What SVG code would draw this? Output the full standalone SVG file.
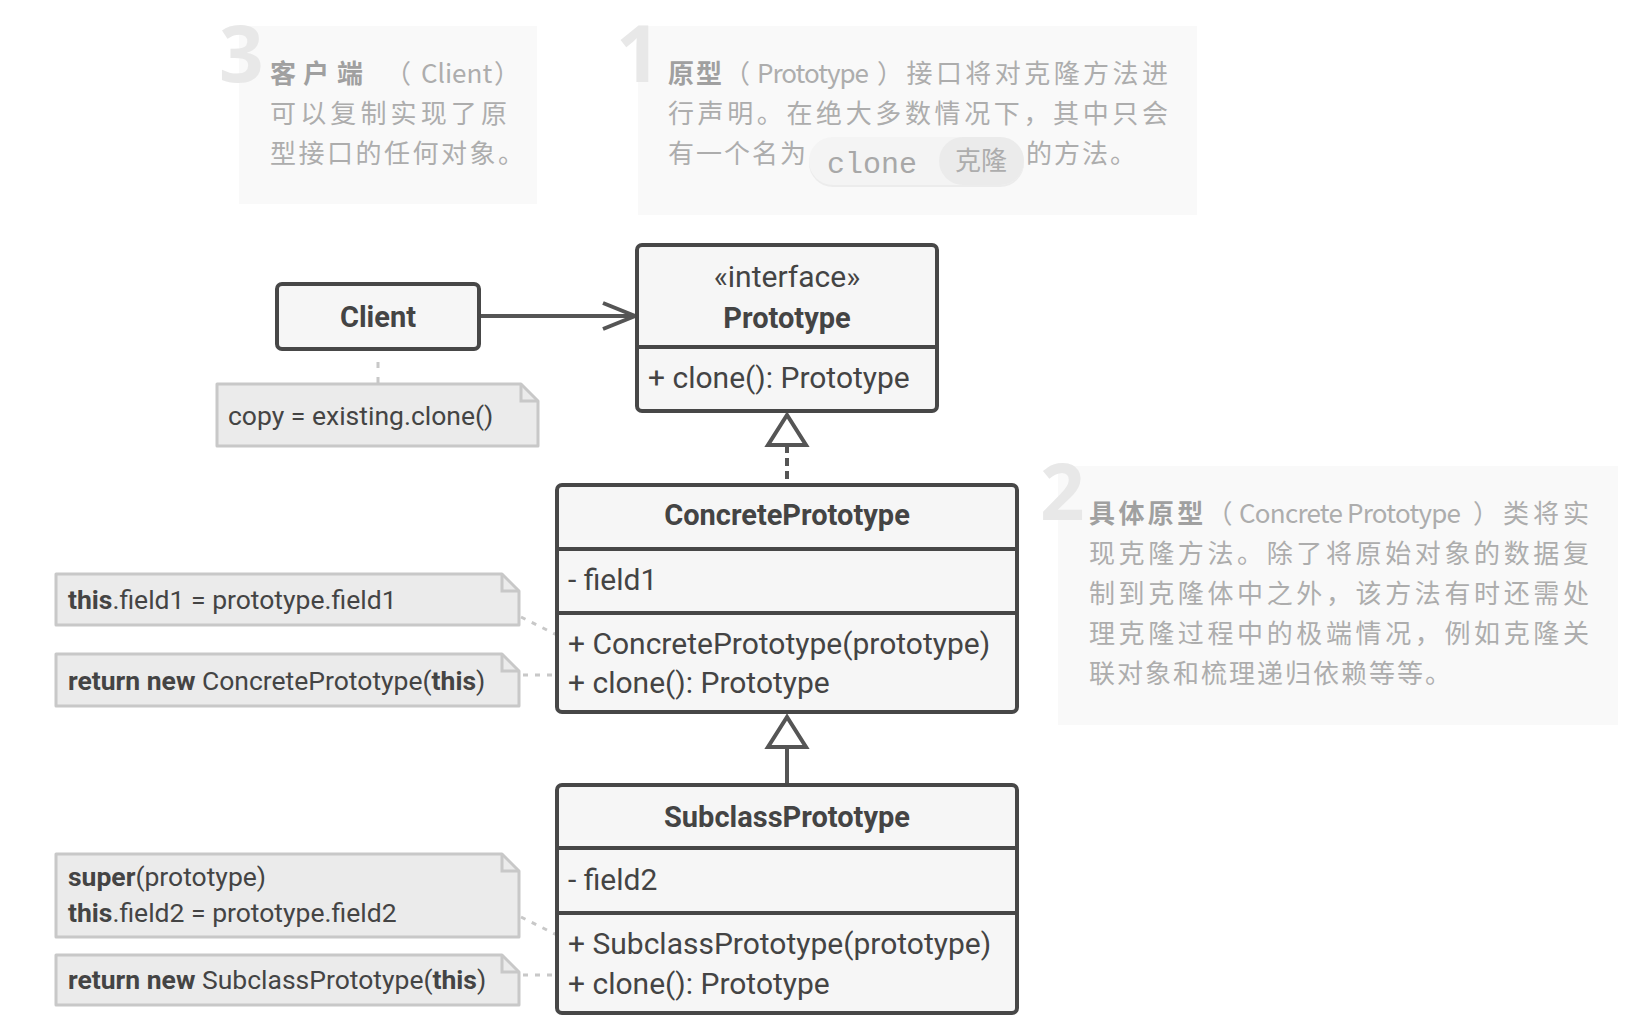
<svg xmlns="http://www.w3.org/2000/svg" width="1642" height="1030" viewBox="0 0 1642 1030">
<style>
.panel{fill:#f9f9f9}
.num{font-family:"Open Sans","Noto Sans",sans-serif;font-weight:700;font-size:78px;fill:#e8e8e8}
.desc{font-family:"Noto Sans CJK SC","Noto Sans",sans-serif;font-size:26px;fill:#adadad}
.db{font-weight:700;fill:#a0a0a0}
.box{fill:#f6f6f6;stroke:#474747;stroke-width:4}
.div{stroke:#474747;stroke-width:4;fill:none}
.t{font-family:Roboto,"Liberation Sans",sans-serif;font-size:30px;fill:#444}
.tb{font-weight:700;font-size:29px}
.mid{text-anchor:middle}
.note{fill:#ebebeb;stroke:#c8c8c8;stroke-width:3;stroke-linejoin:round}
.fold{fill:none;stroke:#c8c8c8;stroke-width:3}
.nt{font-family:Roboto,"Liberation Sans",sans-serif;font-size:26.5px;fill:#444}
.b{font-weight:700}
.edge{stroke:#555;stroke-width:4;fill:none}
.head{stroke:#555;stroke-width:4;fill:#fff;stroke-linejoin:miter}
.dash{stroke-dasharray:8 5}
.ndash{stroke:#c8c8c8;stroke-width:3;stroke-dasharray:5 7;fill:none}
</style>

<!-- description panels -->
<g id="desc-client">
  <rect class="panel" x="239" y="26" width="298" height="178"/>
  <text class="num" x="219" y="82">3</text>
  <text class="desc" y="83"><tspan class="db" x="270">客</tspan><tspan class="db" x="303">户</tspan><tspan class="db" x="337">端</tspan><tspan x="385">（</tspan><tspan x="421">Client</tspan><tspan x="494">）</tspan></text>
  <text class="desc" x="270" y="123" textLength="237" lengthAdjust="spacing">可以复制实现了原</text>
  <text class="desc" x="270" y="163" letter-spacing="2.5">型接口的任何对象。</text>
</g>

<g id="desc-prototype">
  <rect class="panel" x="638" y="26" width="559" height="189"/>
  <text class="num" x="616" y="82">1</text>
  <text class="desc" x="668" y="83" letter-spacing="2"><tspan class="db">原型</tspan>（</text>
  <text class="desc" x="757" y="83" textLength="112" lengthAdjust="spacing">Prototype</text>
  <text class="desc" x="877" y="83" textLength="291" lengthAdjust="spacing">）接口将对克隆方法进</text>
  <text class="desc" x="668" y="123" textLength="500" lengthAdjust="spacing">行声明。在绝大多数情况下，其中只会</text>
  <text class="desc" x="668" y="163" letter-spacing="2">有一个名为</text>
  <rect x="809" y="139" width="215" height="48" rx="24" fill="#ececec"/>
  <rect x="809" y="137" width="215" height="48" rx="24" fill="#f4f4f4"/>
  <rect x="939" y="137" width="85" height="48" rx="24" fill="#ebebeb"/>
  <text x="827" y="173" font-family="'Liberation Mono','DejaVu Sans Mono',monospace" font-size="30" fill="#a8a8a8">clone</text>
  <text class="desc" x="955" y="170">克隆</text>
  <text class="desc" x="1026" y="163" letter-spacing="2">的方法。</text>
</g>

<g id="desc-concrete">
  <rect class="panel" x="1058" y="466" width="560" height="259"/>
  <text class="num" x="1040" y="520">2</text>
  <text class="desc" x="1089" y="523" letter-spacing="3.4"><tspan class="db">具体原型</tspan>（</text>
  <text class="desc" x="1239" y="523" textLength="222" lengthAdjust="spacing">Concrete Prototype</text>
  <text class="desc" x="1473" y="523" textLength="116" lengthAdjust="spacing">）类将实</text>
  <text class="desc" x="1089" y="563" textLength="500" lengthAdjust="spacing">现克隆方法。除了将原始对象的数据复</text>
  <text class="desc" x="1089" y="603" textLength="500" lengthAdjust="spacing">制到克隆体中之外，该方法有时还需处</text>
  <text class="desc" x="1089" y="643" textLength="500" lengthAdjust="spacing">理克隆过程中的极端情况，例如克隆关</text>
  <text class="desc" x="1089" y="683" letter-spacing="2">联对象和梳理递归依赖等等。</text>
</g>

<!-- connectors -->
<g id="connectors">
  <line class="edge" x1="479" y1="316" x2="633" y2="316"/>
  <polyline class="edge" points="603,303 635,316 603,329"/>
  <line class="edge dash" x1="787" y1="445" x2="787" y2="485"/>
  <polygon class="head" points="787,415 768,445 806,445"/>
  <line class="edge" x1="787" y1="747" x2="787" y2="785"/>
  <polygon class="head" points="787,717 768,747 806,747"/>
  <line class="ndash" x1="378" y1="362" x2="378" y2="384" style="stroke-dasharray:6 9"/>
  <line class="ndash" x1="521" y1="617" x2="557" y2="635"/>
  <line class="ndash" x1="523" y1="675" x2="557" y2="675"/>
  <line class="ndash" x1="521" y1="917" x2="557" y2="935"/>
  <line class="ndash" x1="523" y1="975" x2="557" y2="975"/>
</g>

<!-- nodes -->
<g id="client">
  <rect class="box" x="277" y="284" width="202" height="65" rx="5"/>
  <text class="t tb mid" x="378" y="327">Client</text>
</g>

<g id="prototype">
  <rect class="box" x="637" y="245" width="300" height="166" rx="5"/>
  <line class="div" x1="637" y1="347" x2="937" y2="347"/>
  <text class="t mid" x="787" y="287">«interface»</text>
  <text class="t tb mid" x="787" y="328">Prototype</text>
  <text class="t" x="648" y="388">+ clone(): Prototype</text>
</g>

<g id="concrete-prototype">
  <rect class="box" x="557" y="485" width="460" height="227" rx="5"/>
  <line class="div" x1="557" y1="549" x2="1017" y2="549"/>
  <line class="div" x1="557" y1="613" x2="1017" y2="613"/>
  <text class="t tb mid" x="787" y="525">ConcretePrototype</text>
  <text class="t" x="568" y="590">- field1</text>
  <text class="t" x="568" y="654">+ ConcretePrototype(prototype)</text>
  <text class="t" x="568" y="693">+ clone(): Prototype</text>
</g>

<g id="subclass-prototype">
  <rect class="box" x="557" y="785" width="460" height="228" rx="5"/>
  <line class="div" x1="557" y1="848" x2="1017" y2="848"/>
  <line class="div" x1="557" y1="913" x2="1017" y2="913"/>
  <text class="t tb mid" x="787" y="827">SubclassPrototype</text>
  <text class="t" x="568" y="890">- field2</text>
  <text class="t" x="568" y="954">+ SubclassPrototype(prototype)</text>
  <text class="t" x="568" y="994">+ clone(): Prototype</text>
</g>

<g id="note-client">
  <path class="note" d="M217 384 H521 L538 401 V446 H217 Z"/>
  <path class="fold" d="M521 384 V401 H538"/>
  <text class="nt" x="228" y="425">copy = existing.clone()</text>
</g>

<g id="note-concrete-ctor">
  <path class="note" d="M56 574 H502 L519 591 V625 H56 Z"/>
  <path class="fold" d="M502 574 V591 H519"/>
  <text class="nt" x="68" y="609"><tspan class="b">this</tspan>.field1 = prototype.field1</text>
</g>

<g id="note-concrete-clone">
  <path class="note" d="M56 654 H502 L519 671 V706 H56 Z"/>
  <path class="fold" d="M502 654 V671 H519"/>
  <text class="nt" x="68" y="690"><tspan class="b">return new</tspan> ConcretePrototype(<tspan class="b">this</tspan>)</text>
</g>

<g id="note-subclass-ctor">
  <path class="note" d="M56 854 H502 L519 871 V937 H56 Z"/>
  <path class="fold" d="M502 854 V871 H519"/>
  <text class="nt" x="68" y="886"><tspan class="b">super</tspan>(prototype)</text>
  <text class="nt" x="68" y="922"><tspan class="b">this</tspan>.field2 = prototype.field2</text>
</g>

<g id="note-subclass-clone">
  <path class="note" d="M56 955 H502 L519 972 V1005 H56 Z"/>
  <path class="fold" d="M502 955 V972 H519"/>
  <text class="nt" x="68" y="989"><tspan class="b">return new</tspan> SubclassPrototype(<tspan class="b">this</tspan>)</text>
</g>
</svg>
